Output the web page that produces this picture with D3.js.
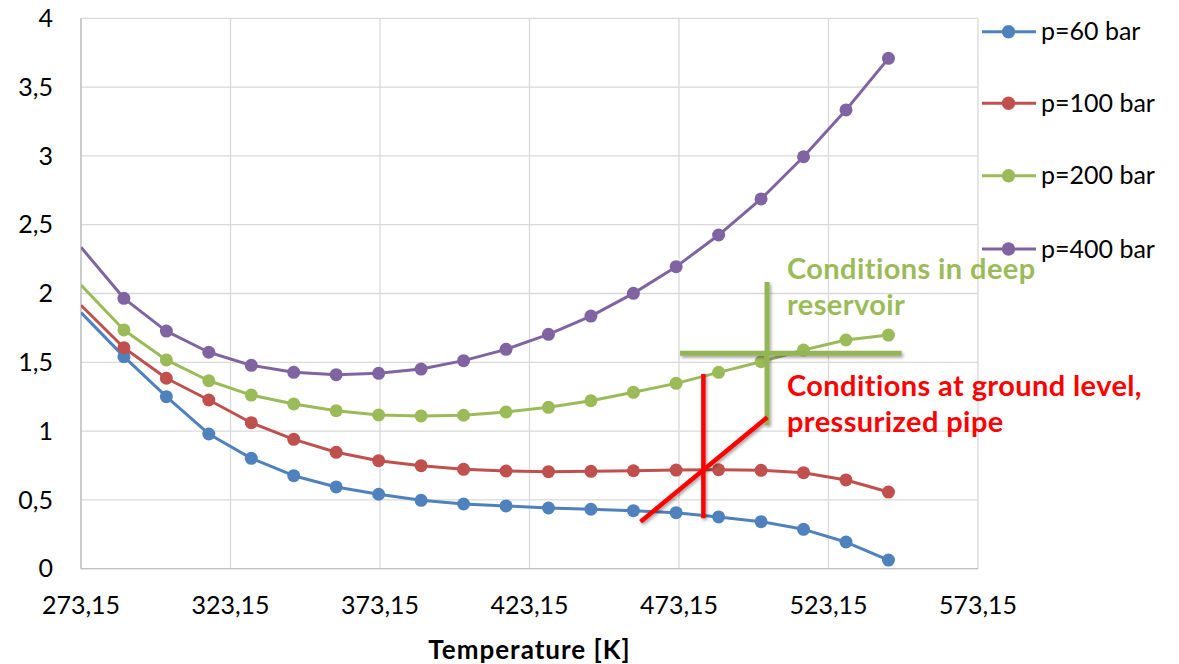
<!DOCTYPE html>
<html>
<head>
<meta charset="utf-8">
<script src="https://cdn.jsdelivr.net/npm/d3@7"></script>
<style>
  html, body { margin: 0; padding: 0; background: #ffffff; }
  svg { display: block; font-family: Lato, "Open Sans", sans-serif; }
</style>
</head>
<body>
<svg id="chart" width="1179" height="664"></svg>
<script>
// Temperatures [K] of the computed states
const temperatures = [287.5, 301.7, 315.9, 330.1, 344.3, 358.5, 372.7, 386.9, 401.1, 415.3,
                      429.5, 443.7, 457.9, 472.2, 486.4, 500.6, 514.8, 529.0, 543.2];

const seriesNames = ["p=60 bar", "p=100 bar", "p=200 bar", "p=400 bar"];

const p60  = [1.541, 1.250, 0.979, 0.802, 0.676, 0.594, 0.541, 0.497, 0.470, 0.456,
              0.441, 0.432, 0.422, 0.407, 0.376, 0.342, 0.286, 0.194, 0.063];
const p100 = [1.606, 1.384, 1.226, 1.061, 0.940, 0.846, 0.785, 0.749, 0.722, 0.710,
              0.705, 0.708, 0.712, 0.717, 0.719, 0.715, 0.698, 0.645, 0.557];
const p200 = [1.735, 1.517, 1.366, 1.262, 1.197, 1.148, 1.117, 1.110, 1.115, 1.139,
              1.173, 1.221, 1.282, 1.347, 1.427, 1.504, 1.589, 1.662, 1.698];
const p400 = [1.965, 1.727, 1.573, 1.478, 1.427, 1.410, 1.420, 1.451, 1.512, 1.594,
              1.703, 1.836, 2.001, 2.195, 2.425, 2.687, 2.994, 3.334, 3.709];

// Where each curve enters the plot at the left axis limit (segment continues from colder states)
const edgeT = 273.15;
const edgeValues = [1.862, 1.915, 2.062, 2.336];

const xTicks = [273.15, 323.15, 373.15, 423.15, 473.15, 523.15, 573.15];
const yTicks = [0, 0.5, 1, 1.5, 2, 2.5, 3, 3.5, 4];
const xTitle = "Temperature [K]";

const colors = ["#4F81BD", "#C0504D", "#9BBB59", "#8064A2"];

// Annotation crosses, in data units
const reservoirH = { t0: 473.5, t1: 547.6, v: 1.565 };
const reservoirV = { t: 502.6, v0: 1.044, v1: 2.084 };
const groundV    = { t: 481.3, v0: 0.366, v1: 1.415 };
const groundD    = { t0: 460.3, v0: 0.342, t1: 502.7, v1: 1.100 };

const reservoirText = ["Conditions in deep", "reservoir"];
const groundText = ["Conditions at ground level,", "pressurized pipe"];

const svg = d3.select("#chart");

const x = d3.scaleLinear().domain([273.15, 573.15]).range([81, 978]);
const y = d3.scaleLinear().domain([0, 4]).range([568.7, 18.3]);

const fmt = v => String(v).replace(".", ",");

const defs = svg.append("defs");
defs.append("clipPath").attr("id", "plotClip")
  .append("rect").attr("x", x.range()[0]).attr("y", y.range()[1])
  .attr("width", x.range()[1] - x.range()[0]).attr("height", y.range()[0] - y.range()[1]);

const shadow = defs.append("filter").attr("id", "shapeShadow")
  .attr("x", "-20%").attr("y", "-20%").attr("width", "140%").attr("height", "140%");
shadow.append("feDropShadow").attr("dx", 1.5).attr("dy", 2).attr("stdDeviation", 1.5)
  .attr("flood-color", "#000").attr("flood-opacity", 0.35);

// Grid
const grid = svg.append("g");
grid.selectAll("line.v").data(xTicks).join("line")
  .attr("x1", d => x(d)).attr("x2", d => x(d))
  .attr("y1", y(4)).attr("y2", y(0))
  .attr("stroke", "#d9d9d9").attr("stroke-width", 1.3);
grid.selectAll("line.h").data(yTicks).join("line")
  .attr("x1", x(273.15)).attr("x2", x(573.15))
  .attr("y1", d => y(d)).attr("y2", d => y(d))
  .attr("stroke", "#d9d9d9").attr("stroke-width", 1.3);

// Axis lines
svg.append("line").attr("x1", x(273.15)).attr("x2", x(273.15)).attr("y1", y(4)).attr("y2", y(0))
  .attr("stroke", "#bfbfbf").attr("stroke-width", 1.3);
svg.append("line").attr("x1", x(273.15)).attr("x2", x(573.15)).attr("y1", y(0)).attr("y2", y(0))
  .attr("stroke", "#bfbfbf").attr("stroke-width", 1.3);

// Tick labels
svg.append("g").selectAll("text").data(yTicks).join("text")
  .attr("x", 53).attr("y", d => y(d)).attr("dy", "0.35em")
  .attr("text-anchor", "end").attr("font-size", 25).attr("fill", "#000")
  .text(fmt);
svg.append("g").selectAll("text").data(xTicks).join("text")
  .attr("x", d => x(d)).attr("y", 614)
  .attr("text-anchor", "middle").attr("font-size", 25).attr("fill", "#000")
  .text(fmt);

svg.append("text").attr("x", (x(273.15) + x(573.15)) / 2).attr("y", 659)
  .attr("text-anchor", "middle").attr("font-size", 26).attr("font-weight", "bold")
  .attr("letter-spacing", 1).attr("fill", "#000").text(xTitle);

// Series
const allSeries = [p60, p100, p200, p400];
const line = d3.line().x(d => x(d[0])).y(d => y(d[1]));
const plot = svg.append("g").attr("clip-path", "url(#plotClip)");

allSeries.forEach((vals, i) => {
  const pts = [[edgeT, edgeValues[i]]].concat(temperatures.map((t, j) => [t, vals[j]]));
  plot.append("path").datum(pts)
    .attr("d", line).attr("fill", "none")
    .attr("stroke", colors[i]).attr("stroke-width", 3).attr("stroke-linejoin", "round");
  plot.append("g").selectAll("circle").data(temperatures.map((t, j) => [t, vals[j]])).join("circle")
    .attr("cx", d => x(d[0])).attr("cy", d => y(d[1])).attr("r", 6.5)
    .attr("fill", colors[i]);
});

// Legend
const legendRows = [31.7, 103.3, 175.7, 249];
const legend = svg.append("g");
seriesNames.forEach((name, i) => {
  const g = legend.append("g").attr("transform", `translate(0,${legendRows[i]})`);
  g.append("line").attr("x1", 982).attr("x2", 1036).attr("y1", 0).attr("y2", 0)
    .attr("stroke", colors[i]).attr("stroke-width", 3);
  g.append("circle").attr("cx", 1008.5).attr("cy", 0).attr("r", 6.7).attr("fill", colors[i]);
  g.append("text").attr("x", 1041).attr("y", 8.5).attr("font-size", 25).attr("fill", "#000").text(name);
});

// Annotation shapes
const ann = svg.append("g").attr("filter", "url(#shapeShadow)");
ann.append("line")
  .attr("x1", x(reservoirH.t0)).attr("x2", x(reservoirH.t1))
  .attr("y1", y(reservoirH.v)).attr("y2", y(reservoirH.v))
  .attr("stroke", "#93B557").attr("stroke-width", 5);
ann.append("line")
  .attr("x1", x(reservoirV.t)).attr("x2", x(reservoirV.t))
  .attr("y1", y(reservoirV.v0)).attr("y2", y(reservoirV.v1))
  .attr("stroke", "#93B557").attr("stroke-width", 5);
ann.append("line")
  .attr("x1", x(groundV.t)).attr("x2", x(groundV.t))
  .attr("y1", y(groundV.v0)).attr("y2", y(groundV.v1))
  .attr("stroke", "#FF0000").attr("stroke-width", 4.5);
ann.append("line")
  .attr("x1", x(groundD.t0)).attr("x2", x(groundD.t1))
  .attr("y1", y(groundD.v0)).attr("y2", y(groundD.v1))
  .attr("stroke", "#FF0000").attr("stroke-width", 4.5);

// Annotation labels
const resLabel = svg.append("text").attr("font-size", 29).attr("font-weight", "bold")
  .attr("letter-spacing", 0.4).attr("fill", "#9BBB59");
reservoirText.forEach((t, i) => {
  resLabel.append("tspan").attr("x", 787).attr("y", 278.5 + i * 36.5).text(t);
});
const gndLabel = svg.append("text").attr("font-size", 29).attr("font-weight", "bold")
  .attr("letter-spacing", 0.4).attr("fill", "#FF0000");
groundText.forEach((t, i) => {
  gndLabel.append("tspan").attr("x", 787).attr("y", 396 + i * 35.7).text(t);
});
</script>
</body>
</html>
